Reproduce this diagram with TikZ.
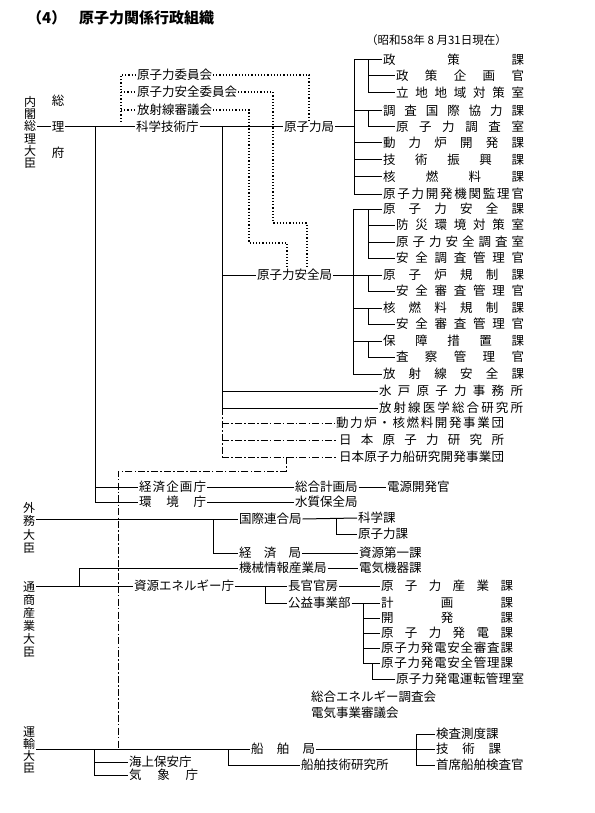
\documentclass[tikz,border=0pt]{standalone}
\usepackage{fontspec}
\setmainfont{Noto Sans CJK JP}
\makeatletter
\def\spr#1{\spr@a#1\relax}
\def\spr@a#1{#1\spr@b}
\def\spr@b#1{\ifx\relax#1\else\hfill#1\expandafter\spr@b\fi}
\makeatother
\newcommand\W[2]{\hbox to #1pt{\spr{#2}}}
\begin{document}
\begin{tikzpicture}[x=1pt,y=-1pt,
  lbl/.style={inner sep=0pt, outer sep=1pt, anchor=west, font=\fontsize{12.5}{13}\selectfont},
  vlbl/.style={inner sep=0pt, outer sep=1pt, align=center},
  conn/.style={line width=1pt},
  dotc/.style={line width=1.2pt, dash pattern=on 1.2pt off 2pt},
  ddc/.style={line width=1pt, dash pattern=on 7pt off 2.2pt on 1.5pt off 2.2pt}]
\useasboundingbox (0,0) rectangle (594,813);
% title
\node[anchor=west, inner sep=0pt, font=\bfseries\fontsize{15}{16}\selectfont] (tnum) at (27,18) {（4）};
\node[anchor=west, inner sep=0pt, font=\bfseries\fontsize{15}{16}\selectfont] (title) at (79,18) {原子力関係行政組織};
\node[anchor=west, inner sep=0pt, font=\fontsize{11.5}{12}\selectfont] (date) at (366,40) {（昭和58年 8 月31日現在）};
% left vertical labels
\node[vlbl, font=\fontsize{12}{12.2}\selectfont] (naikaku) at (30,132.5) {内\\閣\\総\\理\\大\\臣};
\node[vlbl, font=\fontsize{12.5}{13}\selectfont] (so) at (58,101) {総};
\node[vlbl, font=\fontsize{12.5}{13}\selectfont] (ri) at (58,127) {理};
\node[vlbl, font=\fontsize{12.5}{13}\selectfont] (fu) at (58,153) {府};
\node[vlbl, font=\fontsize{12}{13.3}\selectfont] (gaimu) at (29,528) {外\\務\\大\\臣};
\node[vlbl, font=\fontsize{12}{13}\selectfont] (tsusan) at (29,619.5) {通\\商\\産\\業\\大\\臣};
\node[vlbl, font=\fontsize{12}{12.2}\selectfont] (unyu) at (29,750) {運\\輸\\大\\臣};
% science agency
\node[lbl] (kagaku) at (135,127) {科学技術庁};
\node[lbl] (iinkai) at (136,75) {原子力委員会};
\node[lbl] (anzeniinkai) at (136,92) {原子力安全委員会};
\node[lbl] (shingikai) at (136,110) {放射線審議会};
\node[lbl] (genkyoku) at (283,127) {原子力局};
\node[lbl] (anzenkyoku) at (256,275) {原子力安全局};
% group 1
\node[lbl] (g1) at (382,60) {\W{141}{政策課}};
\node[lbl] (g2) at (395,76) {\W{128}{政策企画官}};
\node[lbl] (g3) at (395,93) {\W{128}{立地地域対策室}};
\node[lbl] (g4) at (382,111) {\W{141}{調査国際協力課}};
\node[lbl] (g5) at (395,127) {\W{128}{原子力調査室}};
\node[lbl] (g6) at (382,143) {\W{141}{動力炉開発課}};
\node[lbl] (g7) at (382,160) {\W{141}{技術振興課}};
\node[lbl] (g8) at (382,177) {\W{141}{核燃料課}};
\node[lbl] (g9) at (382,194) {\W{141}{原子力開発機関監理官}};
% group 2
\node[lbl] (h1) at (382,209) {\W{141}{原子力安全課}};
\node[lbl] (h2) at (395,225) {\W{128}{防災環境対策室}};
\node[lbl] (h3) at (395,242) {\W{128}{原子力安全調査室}};
\node[lbl] (h4) at (395,258) {\W{128}{安全調査管理官}};
\node[lbl] (h5) at (382,275) {\W{141}{原子炉規制課}};
\node[lbl] (h6) at (395,291) {\W{128}{安全審査管理官}};
\node[lbl] (h7) at (382,308) {\W{141}{核燃料規制課}};
\node[lbl] (h8) at (395,324) {\W{128}{安全審査管理官}};
\node[lbl] (h9) at (382,341) {\W{141}{保障措置課}};
\node[lbl] (h10) at (395,357) {\W{128}{査察管理官}};
\node[lbl] (h11) at (382,374) {\W{141}{放射線安全課}};
\node[lbl] (mito) at (378,391) {\W{144}{水戸原子力事務所}};
\node[lbl] (hoiken) at (378,408) {\W{144}{放射線医学総合研究所}};
\node[lbl] (doryoku) at (335,423) {\W{168}{動力炉・核燃料開発事業団}};
\node[lbl] (genken) at (338,440) {\W{165}{日本原子力研究所}};
\node[lbl] (fune) at (338,457) {\W{165}{日本原子力船研究開発事業団}};
% EPA / Environment
\node[lbl] (kikaku) at (138,487) {\W{67}{経済企画庁}};
\node[lbl] (kankyo) at (138,502) {\W{67}{環境庁}};
\node[lbl] (sogo) at (294,487) {総合計画局};
\node[lbl] (dengen) at (386,487) {電源開発官};
\node[lbl] (suishitsu) at (294,502) {水質保全局};
% foreign
\node[lbl] (kokuren) at (238,519) {国際連合局};
\node[lbl] (kagakuka) at (357,518) {科学課};
\node[lbl] (genka) at (357,534) {原子力課};
\node[lbl] (keizai) at (238,553) {\W{62}{経済局}};
\node[lbl] (shigen1) at (358,553) {資源第一課};
% MITI
\node[lbl] (kikai) at (238,568) {機械情報産業局};
\node[lbl] (denkiki) at (358,568) {電気機器課};
\node[lbl] (shigenene) at (133,586) {資源エネルギー庁};
\node[lbl] (chokan) at (287,586) {長官官房};
\node[lbl] (genzai) at (380,586) {\W{132}{原子力産業課}};
\node[lbl] (koeki) at (287,603) {公益事業部};
\node[lbl] (k1) at (380,603) {\W{132}{計画課}};
\node[lbl] (k2) at (380,618) {\W{132}{開発課}};
\node[lbl] (k3) at (380,633) {\W{132}{原子力発電課}};
\node[lbl] (k4) at (380,648) {\W{132}{原子力発電安全審査課}};
\node[lbl] (k5) at (380,663) {\W{132}{原子力発電安全管理課}};
\node[lbl] (k6) at (395,679) {\W{128}{原子力発電運転管理室}};
\node[lbl] (sogoene) at (310,697) {総合エネルギー調査会};
\node[lbl] (denjigyo) at (310,713) {電気事業審議会};
% transport
\node[lbl] (senpaku) at (250,749) {\W{64}{船舶局}};
\node[lbl] (kaijo) at (128,762) {海上保安庁};
\node[lbl] (kisho) at (128,775) {\W{69}{気象庁}};
\node[lbl] (sengi) at (300,765) {船舶技術研究所};
\node[lbl] (kensa) at (435,734) {検査測度課};
\node[lbl] (gijutsu) at (435,749) {\W{65}{技術課}};
\node[lbl] (shuseki) at (435,765) {首席船舶検査官};
% bus coordinates
\coordinate (bL) at (95,0);
\coordinate (bK) at (222,0);
\coordinate (bA) at (354,0);
\coordinate (bB) at (368,0);
\coordinate (bC) at (353,0);
\coordinate (bD) at (368,0);
\coordinate (bDot) at (121,122);
\coordinate (bG) at (213,0);
\coordinate (bH) at (336,0);
\coordinate (bI) at (79,0);
\coordinate (bJ) at (265,0);
\coordinate (bP) at (363,0);
\coordinate (bQ) at (372,0);
\coordinate (bM) at (94,0);
\coordinate (bN) at (228,0);
\coordinate (bO) at (416,0);
\coordinate (jA) at (286,471);
\coordinate (jB) at (118,471);
% main chain
\draw[conn] (ri.west -| naikaku.east) -- (ri.west);
\draw[conn] (ri.east) -- (kagaku.west);
\draw[conn] (kagaku.east) -- (genkyoku.west);
\draw[conn] (ri.east -| bL) -- (kankyo.west -| bL);
\draw[conn] (kikaku.west -| bL) -- (kikaku.west);
\draw[conn] (kankyo.west -| bL) -- (kankyo.west);
\draw[conn] (kikaku.east) -- (sogo.west);
\draw[conn] (sogo.east) -- (dengen.west);
\draw[conn] (kankyo.east) -- (suishitsu.west);
\draw[conn] (kagaku.east -| bK) -- (hoiken.west -| bK);
\foreach \n in {anzenkyoku,mito,hoiken} \draw[conn] (\n.west -| bK) -- (\n.west);
% group 1 buses
\draw[conn] (genkyoku.east) -- (genkyoku.east -| bA);
\draw[conn] (g1.west -| bA) -- (g9.west -| bA);
\foreach \n in {g1,g4,g6,g7,g8,g9} \draw[conn] (\n.west -| bA) -- (\n.west);
\draw[conn] (g1.west -| bB) -- (g3.west -| bB);
\draw[conn] (g4.west -| bB) -- (g5.west -| bB);
\foreach \n in {g2,g3,g5} \draw[conn] (\n.west -| bB) -- (\n.west);
% group 2 buses
\draw[conn] (anzenkyoku.east) -- (anzenkyoku.east -| bC);
\draw[conn] (h1.west -| bC) -- (h11.west -| bC);
\foreach \n in {h1,h5,h7,h9,h11} \draw[conn] (\n.west -| bC) -- (\n.west);
\draw[conn] (h1.west -| bD) -- (h4.west -| bD);
\draw[conn] (h5.west -| bD) -- (h6.west -| bD);
\draw[conn] (h7.west -| bD) -- (h8.west -| bD);
\draw[conn] (h9.west -| bD) -- (h10.west -| bD);
\foreach \n in {h2,h3,h4,h6,h8,h10} \draw[conn] (\n.west -| bD) -- (\n.west);
% dash-dot
\draw[ddc] (hoiken.west -| bK) -- (fune.west -| bK);
\foreach \n in {doryoku,genken,fune} \draw[ddc] (\n.west -| bK) -- (\n.west);
\draw[ddc] (fune.west -| jA) -- (jA) -- (jB) -- (senpaku.west -| jB);
% dotted
\draw[dotc] (bDot) |- (iinkai.west);
\draw[dotc] (anzeniinkai.west -| bDot) -- (anzeniinkai.west);
\draw[dotc] (shingikai.west -| bDot) -- (shingikai.west);
\draw[dotc] (iinkai.east) -| (genkyoku.north);
\draw[dotc] (anzeniinkai.east) -| (273,223) -| (307,267);
\draw[dotc] (shingikai.east) -| (249,243) -| (287,267);
% foreign
\draw[conn] (gaimu.east |- kokuren.west) -- (kokuren.west);
\draw[conn] (kokuren.west -| bG) |- (keizai.west);
\draw[conn] (kokuren.east) -- (kagakuka.west);
\draw[conn] (kagakuka.west -| bH) |- (genka.west);
\draw[conn] (keizai.east) -- (shigen1.west);
% MITI
\draw[conn] (tsusan.east |- shigenene.west) -- (shigenene.west);
\draw[conn] (shigenene.west -| bI) |- (kikai.west);
\draw[conn] (kikai.east) -- (denkiki.west);
\draw[conn] (shigenene.east) -- (chokan.west);
\draw[conn] (chokan.west -| bJ) |- (koeki.west);
\draw[conn] (chokan.east) -- (genzai.west);
\draw[conn] (koeki.east) -- (k1.west);
\draw[conn] (k1.west -| bP) -- (k5.west -| bP);
\foreach \n in {k2,k3,k4,k5} \draw[conn] (\n.west -| bP) -- (\n.west);
\draw[conn] (k5.west -| bQ) |- (k6.west);
% transport
\draw[conn] (unyu.east |- senpaku.west) -- (senpaku.west);
\draw[conn] (senpaku.west -| bM) -- (kisho.west -| bM);
\foreach \n in {kaijo,kisho} \draw[conn] (\n.west -| bM) -- (\n.west);
\draw[conn] (senpaku.west -| bN) |- (sengi.west);
\draw[conn] (senpaku.east) -- (gijutsu.west);
\draw[conn] (kensa.west -| bO) -- (shuseki.west -| bO);
\foreach \n in {kensa,shuseki} \draw[conn] (\n.west -| bO) -- (\n.west);
\end{tikzpicture}
\end{document}
